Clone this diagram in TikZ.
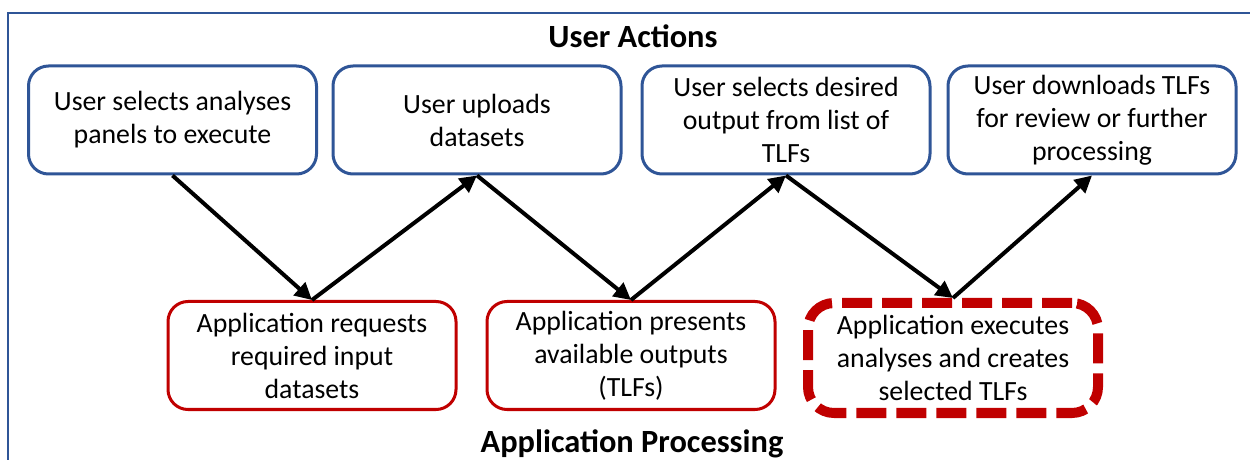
\documentclass[tikz,border=0pt]{standalone}
\usepackage{fontspec}
\setmainfont{Carlito}
\usetikzlibrary{arrows.meta}
\definecolor{boxblue}{HTML}{2F5597}
\definecolor{boxred}{HTML}{C00000}
\begin{document}
\begin{tikzpicture}[x=0.5pt,y=-0.5pt,
  useract/.style={draw=boxblue, line width=1.5pt, rounded corners=10pt,
    minimum width=144pt, minimum height=54pt, inner sep=0pt, align=center,
    font=\fontsize{13.9}{16.5}\selectfont},
  appstep/.style={useract, draw=boxred},
  activestep/.style={appstep, line width=5pt, dash pattern=on 15pt off 5pt,
    rounded corners=13pt, minimum width=145pt, minimum height=55pt},
  flow/.style={draw=black, line width=2pt, -{Triangle[length=8.5pt,width=8.5pt]}},
  heading/.style={font=\fontsize{16.2}{19}\selectfont\bfseries, anchor=base}]
  \useasboundingbox (0,0) rectangle (1250,460);

  % open frame along the left and top edges
  \draw[boxblue, line width=0.75pt] (8,462) -- (8,13) -- (1252,13);

  \node[heading] (ua) at (633,48) {User Actions};
  \node[heading] (ap) at (632,452) {Application Processing};

  % user actions (top row)
  \node[useract] (u1) at (172.5,120) {User selects analyses\\panels to execute};
  \node[useract] (u2) at (477,120) {User uploads\\datasets};
  \node[useract] (u3) at (786,120) {User selects desired\\output from list of\\TLFs};
  \node[useract] (u4) at (1092,120) {User downloads TLFs\\for review or further\\processing};

  % application processing (bottom row)
  \node[appstep] (a1) at (312,355.5) {Application requests\\required input\\datasets};
  \node[appstep] (a2) at (631,355.5) {Application presents\\available outputs\\(TLFs)};
  \node[activestep] (a3) at (953,358) {Application executes\\analyses and creates\\selected TLFs};

  % zig-zag flow
  \draw[flow] (u1.south) -- (a1.north);
  \draw[flow] (a1.north) -- (u2.south);
  \draw[flow] (u2.south) -- (a2.north);
  \draw[flow] (a2.north) -- (u3.south);
  \draw[flow] (u3.south) -- (a3.north);
  \draw[flow] (a3.north) -- (u4.south);
\end{tikzpicture}
\end{document}
